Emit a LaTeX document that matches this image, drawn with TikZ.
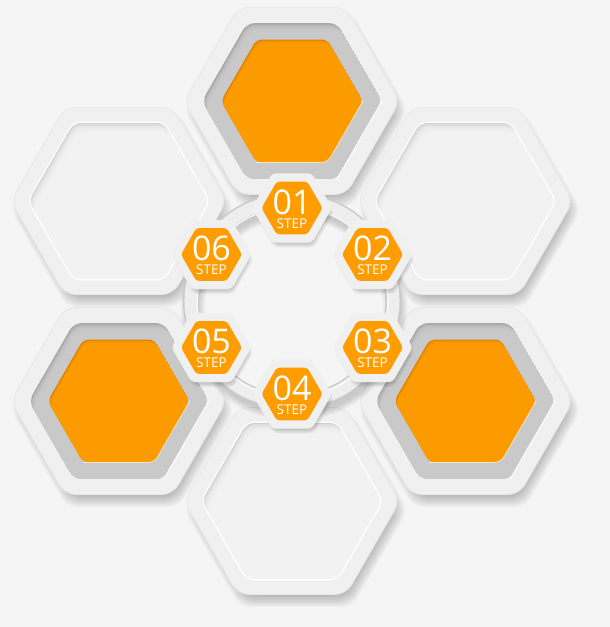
\documentclass[tikz,border=0pt]{standalone}
\usepackage{fontspec}
\setmainfont{Open Sans}
\usetikzlibrary{shapes.geometric}

\definecolor{paper}{RGB}{245,245,245}
\definecolor{framegray}{RGB}{240,240,240}
\definecolor{bandgray}{RGB}{238,238,238}
\definecolor{wellgray}{RGB}{204,204,204}
\definecolor{wellshade}{RGB}{168,168,168}
\definecolor{hexorange}{RGB}{255,157,0}
\definecolor{hexorangedark}{RGB}{222,128,0}

% flat-top hexagon of circumradius #1 round the origin
\newcommand\hexpath[1]{({0}:{#1}) -- ({60}:{#1}) -- ({120}:{#1}) -- ({180}:{#1}) -- ({240}:{#1}) -- ({300}:{#1}) -- cycle}

% big hexagon with an orange face, at angle #1 round the centre
\newcommand\fullhex[1]{%
\begin{scope}[shift={(292,326)}, shift={(#1:200)}]
  \foreach \k in {0,...,6} \fill[softshade, framecorner, shift={(4,-9)}] \hexpath{100+2*\k};
  \fill[framegray, framecorner] \hexpath{108};
  \draw[gray!18, line width=0.8, framecorner] \hexpath{108};
  \begin{scope}
    \clip[wellcorner] \hexpath{90};
    \fill[wellshade] \hexpath{90};
    \foreach \k in {1,...,5} \fill[wellgray, opacity=0.45, wellcorner, shift={(0.8*\k,-1.6*\k)}] \hexpath{90};
  \end{scope}
  \draw[white, line width=1, wellcorner] (300:90) -- (0:90);
  \begin{scope}
    \clip[facecorner] \hexpath{71};
    \fill[hexorangedark] \hexpath{71};
    \foreach \k in {1,2,3} \fill[hexorange, opacity=0.6, facecorner, shift={(0.6*\k,-1.2*\k)}] \hexpath{71};
  \end{scope}
  \draw[white, opacity=0.7, line width=0.8, facecorner] (240:71) -- (300:71) -- (0:71);
\end{scope}}

% big empty hexagon frame, at angle #1 round the centre
\newcommand\openhex[1]{%
\begin{scope}[shift={(292,326)}, shift={(#1:200)}]
  \foreach \k in {0,...,6} \fill[softshade, framecorner, shift={(4,-9)}] \hexpath{100+2*\k};
  \fill[framegray, framecorner] \hexpath{108};
  \draw[gray!18, line width=0.8, framecorner] \hexpath{108};
  \begin{scope}
    \clip[wellcorner] \hexpath{91};
    \fill[gray!38] \hexpath{91};
    \foreach \k in {1,...,6} \fill[paper, opacity=0.42, wellcorner, shift={(0.9*\k,-1.8*\k)}] \hexpath{91};
  \end{scope}
  \draw[white, line width=1.2, wellcorner] \hexpath{91};
\end{scope}}

\begin{document}
\begin{tikzpicture}[x=1pt, y=1pt]
\tikzstyle{softshade}   = [black, opacity=0.034]
\tikzstyle{framecorner} = [rounded corners=11]
\tikzstyle{wellcorner}  = [rounded corners=8]
\tikzstyle{facecorner}  = [rounded corners=6]
\tikzstyle{ringband}    = [rounded corners=40]
\tikzstyle{stepframe}   = [regular polygon, regular polygon sides=6, minimum size=80, inner sep=0, fill=framegray, rounded corners=4]
\tikzstyle{stepface}    = [regular polygon, regular polygon sides=6, minimum size=61, inner sep=0, fill=hexorange, rounded corners=3]
\tikzstyle{stepnum}     = [text=white, inner sep=0, text height=24, text depth=0, font=\fontsize{34}{34}\selectfont]
\tikzstyle{steptag}     = [text=white, inner sep=0, text height=9.5, text depth=0, font=\fontsize{13.5}{13.5}\selectfont]
\useasboundingbox (0,0) rectangle (610,627);
\fill[paper] (0,0) rectangle (610,627);

% empty frames
\openhex{150}
\openhex{30}
\openhex{-90}

% orange frames
\fullhex{90}
\fullhex{-150}
\fullhex{-30}

% ring joining the steps
\begin{scope}[shift={(292,326)}]
  \foreach \k in {0,...,4} \draw[softshade, ringband, line width=12+3*\k, shift={(2,-7)}] \hexpath{113};
  \draw[gray!42, ringband, line width=15.5] \hexpath{113};
  \draw[bandgray, ringband, line width=12.5] \hexpath{113};
  \draw[white, ringband, line width=1, shift={(0.6,-1.2)}] \hexpath{107};
\end{scope}

% steps
\foreach \i/\a in {1/90, 2/30, 3/-30, 4/-90, 5/-150, 6/150} {
  \begin{scope}[shift={(292,326)}, shift={(\a:93)}]
    \foreach \k in {0,...,4} \fill[softshade, rounded corners=4, shift={(2,-5)}] \hexpath{36+\k};
    \node[stepframe] (f\i) at (0,0) {};
    \node[stepface] (s\i) at (0,0) {};
    \node[stepnum] (n\i) at ([yshift=5.5]s\i.center) {0\i};
    \node[steptag] (t\i) at ([yshift=-15.5]s\i.center) {STEP};
  \end{scope}
}
\end{tikzpicture}
\end{document}
